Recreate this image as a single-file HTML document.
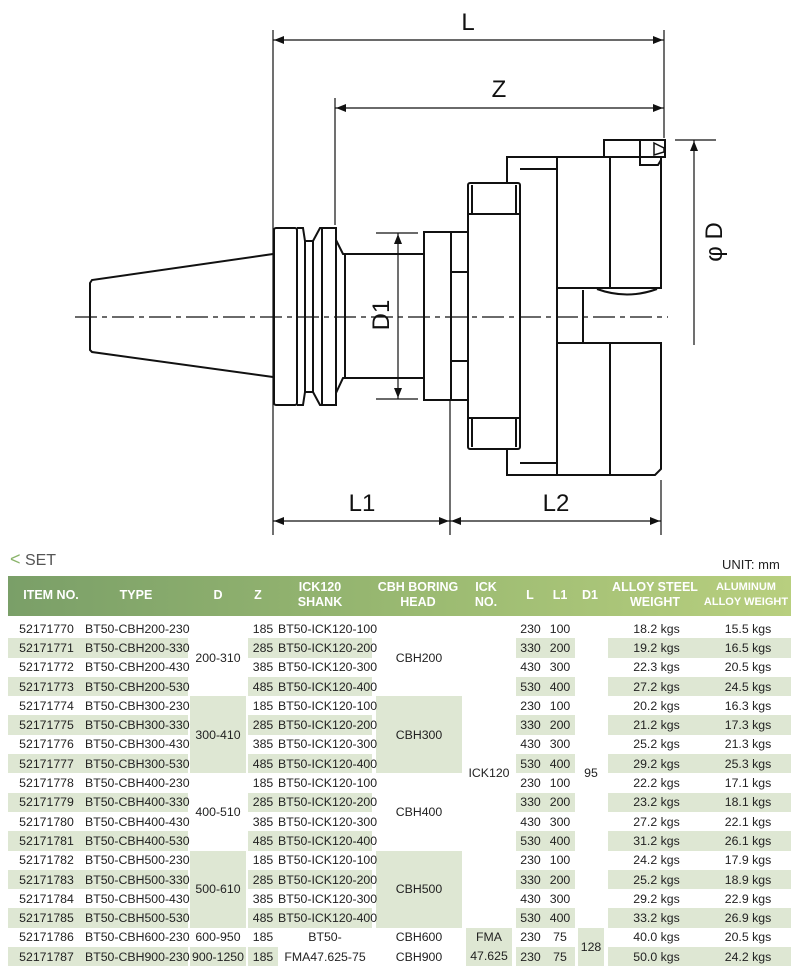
<!DOCTYPE html>
<html><head><meta charset="utf-8">
<style>
body{margin:0;background:#fff;width:800px;height:978px;position:relative;overflow:hidden;font-family:"Liberation Sans",sans-serif;}
svg{position:absolute;left:0;top:0}
.hdr{position:absolute;left:8px;top:576px;width:783px;height:40px;background:linear-gradient(90deg,#7a9f68,#9cbb72 55%,#b8cf7f);}
.hdr div{position:absolute;color:#fff;font-weight:bold;font-size:12.5px;line-height:15px;text-align:center;transform:translateX(-50%);white-space:nowrap}
table{position:absolute;left:8px;top:619px;width:783px;border-collapse:collapse;table-layout:fixed;font-size:12.3px;color:#222}
td{padding:0;height:19.3px;text-align:center;white-space:nowrap;overflow:visible;line-height:14px}
.s{background:#dee7d3}
</style></head><body>
<svg width="800" height="560" viewBox="0 0 800 560" fill="none" stroke="#111" stroke-width="2">
<line x1="75" y1="317" x2="668" y2="317" stroke-width="1.2" stroke-dasharray="22,5,5,5"/>
<path d="M273 254 L92 280 L90 283 L90 350 L92 352 L273 377"/>
<rect x="274" y="228" width="23" height="177" rx="2"/>
<line x1="297" y1="253" x2="297" y2="380"/>
<path d="M297 228 L303 228 L305 241 L313 241 L320 228 L336 228 L336 405 L320 405 L313 392 L305 392 L303 405 L297 405"/>
<line x1="305" y1="241" x2="305" y2="392"/><line x1="313" y1="241" x2="313" y2="392"/>
<line x1="322" y1="228" x2="322" y2="405"/>
<path d="M336 240 L343 254 L423 254 M336 393 L343 378 L423 378"/>
<line x1="345" y1="254" x2="345" y2="378"/>
<rect x="424" y="232" width="27" height="168"/>
<rect x="451" y="232" width="17" height="168"/>
<line x1="451" y1="272" x2="468" y2="272"/><line x1="451" y1="361" x2="468" y2="361"/>
<rect x="468" y="183" width="52" height="266" rx="2"/>
<line x1="468" y1="214" x2="520" y2="214"/><line x1="468" y1="418" x2="520" y2="418"/>
<line x1="472" y1="185" x2="472" y2="214"/><line x1="516" y1="185" x2="516" y2="214"/>
<line x1="472" y1="418" x2="472" y2="447"/><line x1="516" y1="418" x2="516" y2="447"/>
<path d="M507 183 L507 157 L557 157 L557 475 L507 475 L507 449"/>
<line x1="520" y1="169" x2="557" y2="169"/><line x1="520" y1="463" x2="557" y2="463"/>
<path d="M557 157 L661 157 L661 288 L557 288"/>
<line x1="610" y1="157" x2="610" y2="288"/>
<path d="M557 343 L661 343 L661 469 L655 475 L557 475"/>
<line x1="610" y1="343" x2="610" y2="475"/>
<line x1="583" y1="290" x2="583" y2="343"/>
<path d="M597 289 Q627 300 657 289"/>
<rect x="604" y="140" width="61" height="17"/>
<line x1="640" y1="140" x2="640" y2="157"/>
<path d="M640 157 L640 165 L658 165 L661 160"/>
<path d="M654 143 L664 148 L664 152 L654 155 Z" stroke-width="1.5"/>
<g stroke-width="1.2">
<line x1="273" y1="30" x2="273" y2="535"/>
<line x1="664" y1="30" x2="664" y2="138"/>
<line x1="335" y1="98" x2="335" y2="225"/>
<line x1="273" y1="40" x2="664" y2="40"/>
<line x1="335" y1="108" x2="664" y2="108"/>
<line x1="450" y1="400" x2="450" y2="535"/>
<line x1="661" y1="480" x2="661" y2="535"/>
<line x1="273" y1="521" x2="661" y2="521"/>
<line x1="675" y1="140" x2="716" y2="140"/>
<line x1="694" y1="140" x2="694" y2="345"/>
<line x1="376" y1="233" x2="418" y2="233"/>
<line x1="376" y1="399" x2="418" y2="399"/>
<line x1="398" y1="233" x2="398" y2="399"/>
</g>
<g fill="#111" stroke="none">
<path d="M274 40 l10 -4 v8z"/><path d="M663 40 l-10 -4 v8z"/>
<path d="M336 108 l10 -4 v8z"/><path d="M663 108 l-10 -4 v8z"/>
<path d="M274 521 l10 -4 v8z"/><path d="M449 521 l-10 -4 v8z"/>
<path d="M451 521 l10 -4 v8z"/><path d="M660 521 l-10 -4 v8z"/>
<path d="M694 141 l-4 10 h8z"/>
<path d="M398 234 l-4 10 h8z"/><path d="M398 398 l-4 -10 h8z"/>
</g>
<g fill="#111" stroke="none" font-family="Liberation Sans" font-size="24">
<text x="468" y="30" text-anchor="middle">L</text>
<text x="499" y="97" text-anchor="middle">Z</text>
<text x="362" y="511" text-anchor="middle">L1</text>
<text x="556" y="511" text-anchor="middle">L2</text>
<text transform="translate(389,315) rotate(-90)" text-anchor="middle">D1</text>
<text transform="translate(722,242) rotate(-90)" text-anchor="middle">φ D</text>
</g>
</svg>
<div style="position:absolute;left:10px;top:549px;font-size:16px;color:#555"><span style="color:#8ab46a;font-size:18px">&lt;</span> SET</div>
<div style="position:absolute;left:722px;top:557px;font-size:13px;color:#222">UNIT: mm</div>
<div class="hdr">
<div style="left:43px;top:12px">ITEM NO.</div>
<div style="left:128px;top:12px">TYPE</div>
<div style="left:210px;top:12px">D</div>
<div style="left:250px;top:12px">Z</div>
<div style="left:312px;top:4px">ICK120<br>SHANK</div>
<div style="left:410px;top:4px">CBH BORING<br>HEAD</div>
<div style="left:478px;top:4px">ICK<br>NO.</div>
<div style="left:522px;top:12px">L</div>
<div style="left:552px;top:12px">L1</div>
<div style="left:582px;top:12px">D1</div>
<div style="left:647px;top:4px">ALLOY STEEL<br>WEIGHT</div>
<div style="left:738px;top:4px;font-size:11px">ALUMINUM<br>ALLOY WEIGHT</div>
</div>
<table>
<colgroup><col style="width:77px"><col style="width:103px"><col style="width:2px"><col style="width:56px"><col style="width:2px"><col style="width:30px"><col style="width:94px"><col style="width:4px"><col style="width:86px"><col style="width:4px"><col style="width:46px"><col style="width:4px"><col style="width:29px"><col style="width:30px"><col style="width:3px"><col style="width:26px"><col style="width:4px"><col style="width:97px"><col style="width:86px"></colgroup>
<tr><td>52171770</td><td>BT50-CBH200-230</td><td rowspan="18"></td><td rowspan="4">200-310</td><td rowspan="18"></td><td>185</td><td>BT50-ICK120-100</td><td rowspan="18"></td><td rowspan="4">CBH200</td><td rowspan="18"></td><td rowspan="16">ICK120</td><td rowspan="18"></td><td>230</td><td>100</td><td rowspan="18"></td><td rowspan="16">95</td><td rowspan="18"></td><td>18.2 kgs</td><td>15.5 kgs</td></tr>
<tr class="s"><td>52171771</td><td>BT50-CBH200-330</td><td>285</td><td>BT50-ICK120-200</td><td>330</td><td>200</td><td>19.2 kgs</td><td>16.5 kgs</td></tr>
<tr><td>52171772</td><td>BT50-CBH200-430</td><td>385</td><td>BT50-ICK120-300</td><td>430</td><td>300</td><td>22.3 kgs</td><td>20.5 kgs</td></tr>
<tr class="s"><td>52171773</td><td>BT50-CBH200-530</td><td>485</td><td>BT50-ICK120-400</td><td>530</td><td>400</td><td>27.2 kgs</td><td>24.5 kgs</td></tr>
<tr><td>52171774</td><td>BT50-CBH300-230</td><td rowspan="4" class="s">300-410</td><td>185</td><td>BT50-ICK120-100</td><td rowspan="4" class="s">CBH300</td><td>230</td><td>100</td><td>20.2 kgs</td><td>16.3 kgs</td></tr>
<tr class="s"><td>52171775</td><td>BT50-CBH300-330</td><td>285</td><td>BT50-ICK120-200</td><td>330</td><td>200</td><td>21.2 kgs</td><td>17.3 kgs</td></tr>
<tr><td>52171776</td><td>BT50-CBH300-430</td><td>385</td><td>BT50-ICK120-300</td><td>430</td><td>300</td><td>25.2 kgs</td><td>21.3 kgs</td></tr>
<tr class="s"><td>52171777</td><td>BT50-CBH300-530</td><td>485</td><td>BT50-ICK120-400</td><td>530</td><td>400</td><td>29.2 kgs</td><td>25.3 kgs</td></tr>
<tr><td>52171778</td><td>BT50-CBH400-230</td><td rowspan="4" style="background:#fff">400-510</td><td>185</td><td>BT50-ICK120-100</td><td rowspan="4" style="background:#fff">CBH400</td><td>230</td><td>100</td><td>22.2 kgs</td><td>17.1 kgs</td></tr>
<tr class="s"><td>52171779</td><td>BT50-CBH400-330</td><td>285</td><td>BT50-ICK120-200</td><td>330</td><td>200</td><td>23.2 kgs</td><td>18.1 kgs</td></tr>
<tr><td>52171780</td><td>BT50-CBH400-430</td><td>385</td><td>BT50-ICK120-300</td><td>430</td><td>300</td><td>27.2 kgs</td><td>22.1 kgs</td></tr>
<tr class="s"><td>52171781</td><td>BT50-CBH400-530</td><td>485</td><td>BT50-ICK120-400</td><td>530</td><td>400</td><td>31.2 kgs</td><td>26.1 kgs</td></tr>
<tr><td>52171782</td><td>BT50-CBH500-230</td><td rowspan="4" class="s">500-610</td><td>185</td><td>BT50-ICK120-100</td><td rowspan="4" class="s">CBH500</td><td>230</td><td>100</td><td>24.2 kgs</td><td>17.9 kgs</td></tr>
<tr class="s"><td>52171783</td><td>BT50-CBH500-330</td><td>285</td><td>BT50-ICK120-200</td><td>330</td><td>200</td><td>25.2 kgs</td><td>18.9 kgs</td></tr>
<tr><td>52171784</td><td>BT50-CBH500-430</td><td>385</td><td>BT50-ICK120-300</td><td>430</td><td>300</td><td>29.2 kgs</td><td>22.9 kgs</td></tr>
<tr class="s"><td>52171785</td><td>BT50-CBH500-530</td><td>485</td><td>BT50-ICK120-400</td><td>530</td><td>400</td><td>33.2 kgs</td><td>26.9 kgs</td></tr>
<tr><td>52171786</td><td>BT50-CBH600-230</td><td>600-950</td><td>185</td><td style="background:#fff">BT50-</td><td style="background:#fff">CBH600</td><td rowspan="2" class="s" style="line-height:19px">FMA<br>47.625</td><td>230</td><td>75</td><td rowspan="2" class="s">128</td><td>40.0 kgs</td><td>20.5 kgs</td></tr>
<tr class="s"><td>52171787</td><td>BT50-CBH900-230</td><td>900-1250</td><td>185</td><td style="background:#fff">FMA47.625-75</td><td style="background:#fff">CBH900</td><td>230</td><td>75</td><td>50.0 kgs</td><td>24.2 kgs</td></tr>
</table>
</body></html>
